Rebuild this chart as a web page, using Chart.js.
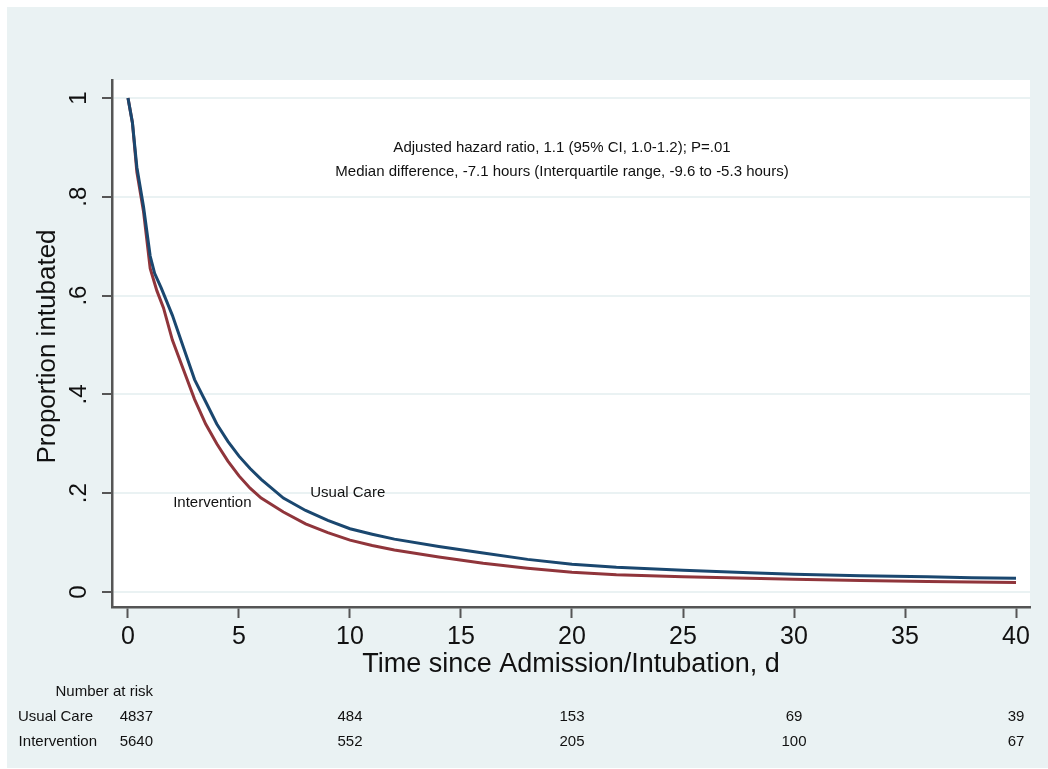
<!DOCTYPE html>
<html>
<head>
<meta charset="utf-8">
<script src="https://cdn.jsdelivr.net/npm/chart.js@4"></script>
<style>
  html, body { margin: 0; padding: 0; background: #fff; }
  canvas { display: block; }
</style>
</head>
<body>
<canvas id="chart" width="1048" height="769"></canvas>
<script>
// Kaplan-Meier style curves
const usualDays = [0, 0.2, 0.4, 0.7, 1.0, 1.2, 1.5, 2, 2.5, 3, 3.5, 4, 4.5, 5, 5.5, 6, 7, 8, 9, 10, 11, 12, 14, 16, 18, 20, 22, 25, 28, 30, 33, 36, 38, 40];
const usualProp = [1.0, 0.95, 0.86, 0.78, 0.68, 0.645, 0.615, 0.56, 0.495, 0.43, 0.385, 0.34, 0.305, 0.275, 0.25, 0.228, 0.19, 0.165, 0.145, 0.128, 0.117, 0.107, 0.092, 0.079, 0.066, 0.056, 0.05, 0.044, 0.039, 0.036, 0.033, 0.031, 0.029, 0.028];
const interDays = [0, 0.2, 0.4, 0.7, 1.0, 1.3, 1.6, 2, 2.5, 3, 3.5, 4, 4.5, 5, 5.5, 6, 7, 8, 9, 10, 11, 12, 14, 16, 18, 20, 22, 25, 28, 30, 33, 36, 38, 40];
const interProp = [1.0, 0.95, 0.85, 0.77, 0.655, 0.61, 0.575, 0.51, 0.45, 0.39, 0.34, 0.3, 0.265, 0.235, 0.21, 0.19, 0.162, 0.138, 0.12, 0.105, 0.094, 0.085, 0.071, 0.058, 0.048, 0.04, 0.035, 0.031, 0.028, 0.026, 0.023, 0.021, 0.02, 0.019];

const xTicks = [0, 5, 10, 15, 20, 25, 30, 35, 40];
const yTicks = [0, 0.2, 0.4, 0.6, 0.8, 1];
const yTickLabels = ["0", ".2", ".4", ".6", ".8", "1"];

const riskTimes = [0, 10, 20, 30, 40];
const riskUsual = [4837, 484, 153, 69, 39];
const riskInter = [5640, 552, 205, 100, 67];

const notes = [
    "Adjusted hazard ratio, 1.1 (95% CI, 1.0-1.2); P=.01",
    "Median difference, -7.1 hours (Interquartile range, -9.6 to -5.3 hours)",
];

const NAVY = "#1a476f";
const MAROON = "#90353b";
const PANEL = "#eaf2f3";
const AXIS = "#555555";
const FONT = "'Liberation Sans', Arial, sans-serif";

const decor = {
    id: "decor",
    beforeDraw(chart) {
        const { ctx, chartArea: a } = chart;
        ctx.save();
        ctx.fillStyle = "#ffffff";
        ctx.fillRect(0, 0, chart.width, chart.height);
        ctx.fillStyle = PANEL;
        ctx.fillRect(7, 7, chart.width - 7, chart.height - 8);
        ctx.fillStyle = "#ffffff";
        ctx.fillRect(a.left, a.top, a.right - a.left, a.bottom - a.top);
        ctx.restore();
    },
    afterDraw(chart) {
        const { ctx, chartArea: a } = chart;
        const xs = chart.scales.x;
        const ys = chart.scales.y;
        ctx.save();
        ctx.fillStyle = "#111";
        ctx.textBaseline = "middle";

        // y tick labels, rotated like Stata
        ctx.font = "24px " + FONT;
        ctx.textAlign = "center";
        yTicks.forEach((v, i) => {
            ctx.save();
            ctx.translate(79, ys.getPixelForValue(v));
            ctx.rotate(-Math.PI / 2);
            ctx.fillText(yTickLabels[i], 0, 0);
            ctx.restore();
        });

        // axis titles
        ctx.font = "26px " + FONT;
        ctx.save();
        ctx.translate(48, (a.top + a.bottom) / 2 + 3);
        ctx.rotate(-Math.PI / 2);
        ctx.fillText("Proportion intubated", 0, 0);
        ctx.restore();
        ctx.font = "27px " + FONT;
        ctx.fillText("Time since Admission/Intubation, d", (a.left + a.right) / 2, 665);

        // annotation lines
        ctx.font = "15px " + FONT;
        ctx.fillText(notes[0], xs.getPixelForValue(19.55), ys.getPixelForValue(0.9));
        ctx.fillText(notes[1], xs.getPixelForValue(19.55), ys.getPixelForValue(0.85));

        // curve labels
        ctx.fillText("Usual Care", xs.getPixelForValue(9.9), ys.getPixelForValue(0.2));
        ctx.fillText("Intervention", xs.getPixelForValue(3.8), ys.getPixelForValue(0.18));

        // number at risk table
        ctx.textAlign = "right";
        ctx.fillText("Number at risk", 153, 692);
        ctx.fillText("Usual Care", 93, 717);
        ctx.fillText("Intervention", 97, 742);
        riskTimes.forEach((t, i) => {
            // first column sits flush under "Number at risk", the rest centre on their tick
            ctx.textAlign = i === 0 ? "right" : "center";
            const px = i === 0 ? 153 : xs.getPixelForValue(t);
            ctx.fillText(String(riskUsual[i]), px, 717);
            ctx.fillText(String(riskInter[i]), px, 742);
        });
        ctx.restore();
    },
};

const chart = document.getElementById("chart");
new Chart(chart, {
    type: "line",
    data: {
        datasets: [
            {
                label: "Usual Care",
                data: usualDays.map((d, i) => ({ x: d, y: usualProp[i] })),
                borderColor: NAVY,
                borderWidth: 3,
                pointRadius: 0,
                tension: 0,
            },
            {
                label: "Intervention",
                data: interDays.map((d, i) => ({ x: d, y: interProp[i] })),
                borderColor: MAROON,
                borderWidth: 3,
                pointRadius: 0,
                tension: 0,
            },
        ],
    },
    options: {
        responsive: false,
        animation: false,
        devicePixelRatio: 1,
        layout: { padding: { top: 80, right: 18, left: 0, bottom: 0 } },
        plugins: {
            legend: { display: false },
            tooltip: { enabled: false },
        },
        scales: {
            x: {
                type: "linear",
                min: -0.72,
                max: 40.63,
                afterBuildTicks: (s) => { s.ticks = xTicks.map((v) => ({ value: v })); },
                afterFit: (s) => { s.height = 162; },
                ticks: {
                    color: "#111",
                    font: { family: FONT, size: 25 },
                    padding: 4,
                    maxRotation: 0,
                    callback: (v) => String(v),
                },
                grid: { drawOnChartArea: false, drawTicks: true, tickLength: 11, tickColor: AXIS, tickWidth: 2 },
                border: { color: AXIS, width: 2.5 },
            },
            y: {
                type: "linear",
                min: -0.0304,
                max: 1.0364,
                afterBuildTicks: (s) => { s.ticks = yTicks.map((v) => ({ value: v })); },
                afterFit: (s) => { s.width = 112; },
                ticks: { display: false },
                grid: { color: "#eaf2f3", lineWidth: 2, drawTicks: true, tickLength: 10, tickColor: AXIS, tickWidth: 2 },
                border: { color: AXIS, width: 2.5 },
            },
        },
    },
    plugins: [decor],
});
</script>
</body>
</html>
